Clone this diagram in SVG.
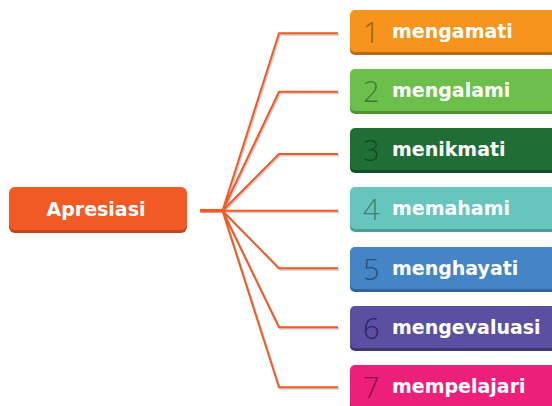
<svg xmlns="http://www.w3.org/2000/svg" width="552" height="406" viewBox="0 0 552 406">
<style>
.lbl{font-family:"DejaVu Sans","Open Sans",sans-serif;font-weight:700;font-size:19px;fill:#ffffff}
.num{font-family:"Open Sans","Liberation Sans",sans-serif;font-weight:300;font-size:29px}
.ln{fill:none;stroke:#F15A24;stroke-width:2;stroke-linejoin:round}
.sh{fill:none;stroke:#cfcfcf;stroke-width:2;stroke-linejoin:round}
</style>
<rect width="552" height="406" fill="#ffffff"/>
<g id="connectors">
<g transform="translate(1.2,1.5)">
<line class="sh" x1="200" y1="210.7" x2="222.5" y2="210.7" stroke-width="3.5"/>
<path class="sh" d="M222.5,210.7 L279,33.3 H338 M222.5,210.7 L279,91.7 H338 M222.5,210.7 L279,154 H338 M222.5,210.7 H338 M222.5,210.7 L279,268.3 H338 M222.5,210.7 L279,327.3 H338 M222.5,210.7 L279,387.3 H338"/>
</g>
<line x1="200" y1="210.7" x2="222.5" y2="210.7" stroke="#F15A24" stroke-width="3.5"/>
<path class="ln" d="M222.5,210.7 L279,33.3 H338 M222.5,210.7 L279,91.7 H338 M222.5,210.7 L279,154 H338 M222.5,210.7 H338 M222.5,210.7 L279,268.3 H338 M222.5,210.7 L279,327.3 H338 M222.5,210.7 L279,387.3 H338"/>
</g>
<g id="apresiasi">
<rect x="9" y="190" width="178" height="43" rx="6" fill="#C2441A"/>
<rect x="9" y="187" width="178" height="43" rx="6" fill="#F15A24"/>
<text class="lbl" x="96" y="215.7" text-anchor="middle">Apresiasi</text>
</g>
<g id="n1">
<rect x="350" y="13" width="210" height="42" rx="5" fill="#B86A12"/>
<rect x="350" y="10" width="210" height="42" rx="5" fill="#F7941D"/>
<text class="num" x="363" y="43" fill="#9A5F10">1</text>
<text class="lbl" x="392" y="38">mengamati</text>
</g>
<g id="n2">
<rect x="350" y="72" width="210" height="42" rx="5" fill="#4E9435"/>
<rect x="350" y="69" width="210" height="42" rx="5" fill="#6CBF4A"/>
<text class="num" x="363" y="102" fill="#3F7A30">2</text>
<text class="lbl" x="392" y="97">mengalami</text>
</g>
<g id="n3">
<rect x="350" y="131" width="210" height="42" rx="5" fill="#164F26"/>
<rect x="350" y="128" width="210" height="42" rx="5" fill="#1F6E35"/>
<text class="num" x="363" y="161" fill="#114A22">3</text>
<text class="lbl" x="392" y="156">menikmati</text>
</g>
<g id="n4">
<rect x="350" y="190" width="210" height="42" rx="5" fill="#4C9E96"/>
<rect x="350" y="187" width="210" height="42" rx="5" fill="#66C6BD"/>
<text class="num" x="363" y="220" fill="#3E7F7A">4</text>
<text class="lbl" x="392" y="215">memahami</text>
</g>
<g id="n5">
<rect x="350" y="250" width="210" height="42" rx="5" fill="#2F6499"/>
<rect x="350" y="247" width="210" height="42" rx="5" fill="#4485C5"/>
<text class="num" x="363" y="280" fill="#2A4D7A">5</text>
<text class="lbl" x="392" y="275">menghayati</text>
</g>
<g id="n6">
<rect x="350" y="309" width="210" height="42" rx="5" fill="#3F377A"/>
<rect x="350" y="306" width="210" height="42" rx="5" fill="#5A4FA0"/>
<text class="num" x="363" y="339" fill="#2E2460">6</text>
<text class="lbl" x="392" y="334">mengevaluasi</text>
</g>
<g id="n7">
<rect x="350" y="368" width="210" height="42" rx="5" fill="#B5155C"/>
<rect x="350" y="365" width="210" height="42" rx="5" fill="#EC1F7A"/>
<text class="num" x="363" y="398" fill="#8A1040">7</text>
<text class="lbl" x="392" y="393">mempelajari</text>
</g>
</svg>
